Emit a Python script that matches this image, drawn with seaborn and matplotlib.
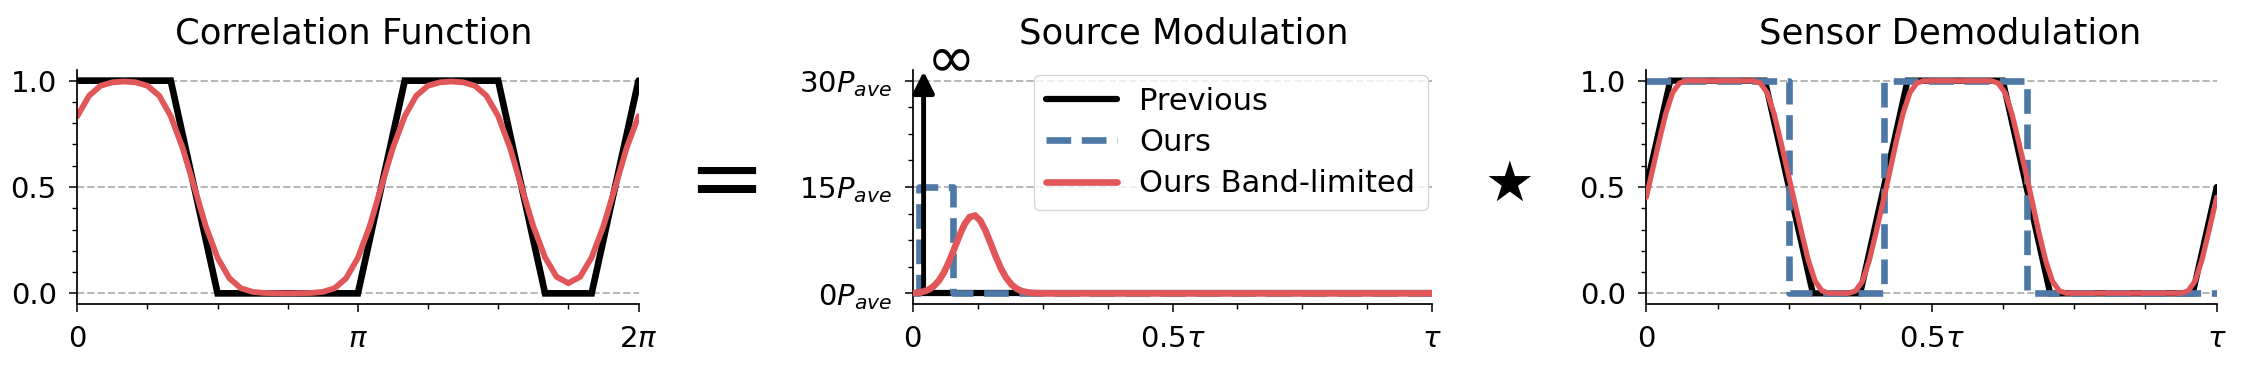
import numpy as np
import matplotlib
matplotlib.use("Agg")
import matplotlib.pyplot as plt
import seaborn as sns

# ---- Correlation Function (x in units of pi) ----
corr_prev_x = [0.0, 0.333, 0.5, 1.0, 1.167, 1.5, 1.667, 1.833, 2.0]
corr_prev_y = [1.0, 1.0, 0.0, 0.0, 1.0, 1.0, 0.0, 0.0, 1.0]
corr_band_x = [0.0, 0.042, 0.083, 0.125, 0.167, 0.208, 0.25, 0.292, 0.333, 0.375,
               0.417, 0.458, 0.5, 0.542, 0.583, 0.625, 0.667, 0.708, 0.75, 0.792,
               0.833, 0.875, 0.917, 0.958, 1.0, 1.042, 1.083, 1.125, 1.167, 1.208,
               1.25, 1.292, 1.333, 1.375, 1.417, 1.458, 1.5, 1.542, 1.583, 1.625,
               1.667, 1.708, 1.75, 1.792, 1.833, 1.875, 1.917, 1.958, 2.0]
corr_band_y = [0.833, 0.929, 0.976, 0.992, 0.996, 0.992, 0.976, 0.929, 0.833, 0.685,
               0.5, 0.315, 0.167, 0.071, 0.024, 0.007, 0.002, 0.001, 0.0, 0.001,
               0.002, 0.007, 0.024, 0.071, 0.167, 0.315, 0.5, 0.685, 0.833, 0.929,
               0.976, 0.992, 0.996, 0.992, 0.976, 0.929, 0.833, 0.685, 0.5, 0.316,
               0.169, 0.078, 0.048, 0.078, 0.169, 0.316, 0.5, 0.685, 0.833]
corr_xticks = [0.0, 1.0, 2.0]
corr_xticklabels = ["0", r"$\pi$", r"$2\pi$"]

# ---- Source Modulation (x in units of tau, y in units of P_ave) ----
src_prev_x = [0.0, 1.0]
src_prev_y = [0.0, 0.0]
src_delta_x = 0.021
src_delta_top = 31.3
src_ours_x = [0.0, 0.012, 0.012, 0.078, 0.078, 1.0]
src_ours_y = [0.0, 0.0, 15.0, 15.0, 0.0, 0.0]
src_band_x = [0.0, 0.01, 0.02, 0.03, 0.04, 0.05, 0.06, 0.07, 0.08, 0.09, 0.1, 0.11,
              0.12, 0.13, 0.14, 0.15, 0.16, 0.17, 0.18, 0.19, 0.2, 0.21, 0.22, 0.23,
              0.24, 0.26, 1.0]
src_band_y = [0.04, 0.1, 0.24, 0.5, 0.98, 1.76, 2.92, 4.47, 6.29, 8.17, 9.78, 10.78,
              10.96, 10.27, 8.86, 7.05, 5.17, 3.49, 2.18, 1.25, 0.66, 0.32, 0.15, 0.06,
              0.02, 0.0, 0.0]
src_yticks = [0, 15, 30]
src_yticklabels = [r"$0P_{ave}$", r"$15P_{ave}$", r"$30P_{ave}$"]

# ---- Sensor Demodulation (x in units of tau) ----
dem_prev_x = [0.0, 0.042, 0.208, 0.292, 0.375, 0.458, 0.625, 0.708, 0.958, 1.0]
dem_prev_y = [0.5, 1.0, 1.0, 0.0, 0.0, 1.0, 1.0, 0.0, 0.0, 0.5]
dem_ours_x = [0.0, 0.25, 0.25, 0.417, 0.417, 0.667, 0.667, 1.0]
dem_ours_y = [1.0, 1.0, 0.0, 0.0, 1.0, 1.0, 0.0, 0.0]
dem_band_x = [0.0, 0.022, 0.034, 0.046, 0.058, 0.07, 0.188, 0.2, 0.212, 0.224, 0.236,
              0.254, 0.272, 0.284, 0.296, 0.308, 0.32, 0.355, 0.367, 0.379, 0.391,
              0.403, 0.421, 0.438, 0.45, 0.462, 0.474, 0.486, 0.605, 0.617, 0.629,
              0.641, 0.653, 0.671, 0.688, 0.7, 0.712, 0.724, 0.736, 0.938, 0.95,
              0.962, 0.974, 0.986, 1.0]
dem_band_y = [0.452, 0.711, 0.844, 0.943, 0.988, 0.999, 0.999, 0.988, 0.943, 0.844, 0.711,
              0.5, 0.289, 0.156, 0.057, 0.012, 0.001, 0.001, 0.012, 0.057, 0.156,
              0.289, 0.5, 0.711, 0.844, 0.943, 0.988, 0.999, 0.999, 0.988, 0.943,
              0.844, 0.711, 0.5, 0.289, 0.156, 0.057, 0.012, 0.001, 0.001, 0.012,
              0.057, 0.156, 0.289, 0.452]

tau_xticks = [0.0, 0.5, 1.0]
tau_xticklabels = ["0", r"$0.5\tau$", r"$\tau$"]
unit_yticks = [0.0, 0.5, 1.0]
unit_yticklabels = ["0.0", "0.5", "1.0"]

titles = ["Correlation Function", "Source Modulation", "Sensor Demodulation"]
legend_labels = ["Previous", "Ours", "Ours Band-limited"]

BLACK = "black"
BLUE = "#4E79A7"
RED = "#E15759"

sns.set_style("ticks")
plt.rcParams["font.family"] = ["DejaVu Sans"]
plt.rcParams["mathtext.fontset"] = "dejavusans"
plt.rcParams["lines.solid_joinstyle"] = "miter"
for k in ["text.color", "axes.labelcolor", "xtick.color", "ytick.color", "axes.edgecolor"]:
    plt.rcParams[k] = "black"

W, H = 2252, 366
fig = plt.figure(figsize=(W / 100, H / 100), dpi=100)


def add_ax(left_px, right_px):
    return fig.add_axes([left_px / W, 1 - 304 / H, (right_px - left_px) / W, 234 / H])


def line(ax, x, y, color, lw, ls="-", label=None, z=2):
    sns.lineplot(x=x, y=y, ax=ax, color=color, lw=lw, linestyle=ls, label=label,
                 estimator=None, sort=False, legend=False, zorder=z)


def style(ax, xt, xtl, yt, ytl, xminor, yminor):
    ax.set_xticks(xt, xtl)
    ax.set_yticks(yt, ytl)
    ax.set_xticks(xminor, minor=True)
    ax.set_yticks(yminor, minor=True)
    sns.despine(ax=ax)
    for s in ["left", "bottom"]:
        ax.spines[s].set_linewidth(1.25)
    ax.tick_params(which="major", length=5.8, width=1.1, labelsize=21, pad=9)
    ax.tick_params(which="minor", length=3.6, width=1.0)
    ax.yaxis.grid(True, which="major", ls="--", color="#b5b5b5", lw=1.4)
    ax.set_axisbelow(True)


ax1 = add_ax(77.3, 638.5)
ax2 = add_ax(912.7, 1432.3)
ax3 = add_ax(1646.3, 2216.7)

# panel 1
line(ax1, np.array(corr_prev_x) * np.pi, corr_prev_y, BLACK, 4.8)
line(ax1, np.array(corr_band_x) * np.pi, corr_band_y, RED, 4.2)
ax1.set_xlim(0, 2 * np.pi)
ax1.set_ylim(-0.05, 1.05)
style(ax1, np.array(corr_xticks) * np.pi, corr_xticklabels, unit_yticks, unit_yticklabels,
      np.arange(9) * np.pi / 4, np.arange(11) / 10)

# panel 2
line(ax2, src_prev_x, src_prev_y, BLACK, 4.5, label=legend_labels[0])
line(ax2, src_ours_x, src_ours_y, BLUE, 4.8, ls="--", label=legend_labels[1])
line(ax2, src_band_x, src_band_y, RED, 4.8, label=legend_labels[2], z=3)
ax2.annotate("", xy=(src_delta_x, src_delta_top), xytext=(src_delta_x, 0),
             arrowprops=dict(arrowstyle="-|>", color=BLACK, lw=3.5, mutation_scale=32,
                             shrinkA=0, shrinkB=0), zorder=2.5, annotation_clip=False)
ax2.text(0.074, 32.9, "∞", fontsize=42, ha="center", va="center")
ax2.set_xlim(0, 1)
ax2.set_ylim(-1.5, 31.5)
style(ax2, tau_xticks, tau_xticklabels, src_yticks, src_yticklabels,
      np.arange(9) / 8, np.arange(9) * 3.75)
h, l = ax2.get_legend_handles_labels()
ax2.legend(h, l, loc="upper right", bbox_to_anchor=(1.0, 1.0), borderaxespad=0.15,
           fontsize=22, handlelength=2.3, labelspacing=0.4, handletextpad=0.75,
           borderpad=0.4, framealpha=0.8)

# panel 3
line(ax3, dem_prev_x, dem_prev_y, BLACK, 4.5)
line(ax3, dem_ours_x, dem_ours_y, BLUE, 4.8, ls="--")
line(ax3, dem_band_x, dem_band_y, RED, 3.8, z=3)
ax3.set_xlim(0, 1)
ax3.set_ylim(-0.05, 1.05)
style(ax3, tau_xticks, tau_xticklabels, unit_yticks, unit_yticklabels,
      np.arange(9) / 8, np.arange(11) / 10)

title_x = [0.493, 0.521, 0.532]
for ax, t, tx in zip([ax1, ax2, ax3], titles, title_x):
    ax.set_title(t, fontsize=25.5, pad=19, x=tx)

fig.text(726 / W, 0.5, "=", fontsize=67, ha="center", va="center")
fig.text(1509.5 / W, 1 - 186 / H, "★", fontsize=40, ha="center", va="center")

fig.savefig("out.png", dpi=100)
